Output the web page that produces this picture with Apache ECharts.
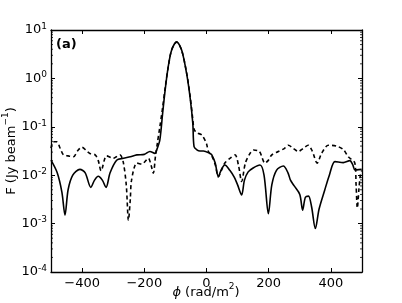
<!DOCTYPE html>
<html><head><meta charset="utf-8">
<script src="https://cdn.jsdelivr.net/npm/echarts@6/dist/echarts.min.js"></script>
<style>html,body{margin:0;padding:0;background:#fff}#c{width:402px;height:303px}</style>
</head><body><div id="c"></div>
<script>
const solidPhi = [-500,-480,-465,-455,-445,-430,-407,-390,-372,-360,-348,-335,-323,-310,-289,-267,-245,-224,-200,-182,-166,-158,-150,-141,-133,-123,-112,-96,-80,-64,-53,-44,-40,-30,-21,-10,11,17,28,38,48,59,75,90,100,113,122,134,150,172,185,199,210,225,247,262,270,282,300,309,318,328,338,350,362,380,395,413,440,461,470,477,483,499];
const solidF = [0.0204,0.0112,0.00447,0.0015,0.0050,0.0100,0.0132,0.0112,0.0056,0.0079,0.0095,0.0079,0.0056,0.0112,0.0204,0.0224,0.0240,0.0263,0.0269,0.0309,0.0282,0.0363,0.0537,0.191,0.575,1.75,3.86,5.73,3.86,1.27,0.417,0.117,0.0389,0.0331,0.0316,0.0316,0.0282,0.0263,0.0178,0.0093,0.0132,0.0162,0.0126,0.0089,0.0063,0.0039,0.0079,0.0117,0.0141,0.0162,0.0100,0.0016,0.0063,0.0126,0.0155,0.0112,0.0079,0.0060,0.0040,0.0019,0.0035,0.0037,0.0022,0.00079,0.0020,0.0049,0.0100,0.0191,0.0182,0.0200,0.0166,0.0129,0.0129,0.0132];
const dashPhi = [-500,-493,-482,-470,-460,-445,-428,-415,-401,-385,-375,-358,-348,-339,-321,-300,-290,-278,-268,-258,-251,-245,-241,-224,-208,-187,-178,-171,-164,-158,-150,-141,-133,-123,-112,-96,-80,-64,-53,-44,-40,-32,-15,0,6,17,28,38,48,59,76,92,103,113,125,140,151,170,188,198,210,231,250,263,280,295,310,327,340,356,370,392,419,440,456,477,481,485,490,494,499];
const dashF = [0.0363,0.0490,0.0490,0.0355,0.0263,0.0251,0.0240,0.0316,0.0380,0.0316,0.0282,0.0263,0.0200,0.0123,0.0251,0.0224,0.0240,0.0263,0.0191,0.0063,0.00117,0.0032,0.0079,0.0178,0.0170,0.0224,0.0158,0.0110,0.0251,0.0457,0.100,0.251,0.631,1.74,3.89,5.62,3.80,1.32,0.447,0.141,0.089,0.0759,0.0676,0.0447,0.0309,0.0251,0.0166,0.0093,0.0126,0.0178,0.0224,0.0263,0.0158,0.0074,0.0178,0.0282,0.0331,0.0309,0.0178,0.0200,0.0263,0.0309,0.0355,0.0417,0.0355,0.0309,0.0355,0.0417,0.0316,0.0178,0.0282,0.0417,0.0398,0.0339,0.0240,0.0178,0.0063,0.0021,0.0050,0.0093,0.0126];
const xTicks = [-400,-200,0,200,400];
const yDecades = [1e-4,1e-3,1e-2,1e-1,1e0,1e1];
const xTitle = '{i|\u03d5}{n| (rad/m}{s|2}{n|)}';
const yTitle = '{n|F (Jy beam}{s|\u22121}{n|)}';
const panelLabel = '(a)';

const minorVals = [];
for (let d = 0; d < 5; d++) for (let m = 2; m <= 9; m++) minorVals.push([m * yDecades[d]]);

const font = 'DejaVu Sans';
const chart = echarts.init(document.getElementById('c'), null, {renderer:'canvas'});
const axLine = {show:true, onZero:false, lineStyle:{color:'#000', width:1.3}};
const supRich = {
  n:{fontFamily:font, fontSize:13, fill:'#000', lineHeight:17, verticalAlign:'bottom'},
  i:{fontFamily:font, fontStyle:'italic', fontSize:13, fill:'#000', lineHeight:17, verticalAlign:'bottom'},
  s:{fontFamily:font, fontSize:9, fill:'#000', lineHeight:10, verticalAlign:'top'}
};
chart.setOption({
  animation:false,
  grid:{left:51, right:40, top:30, bottom:31, show:false, containLabel:false, outerBoundsMode:'none'},
  xAxis:[
    {type:'value', min:-500, max:500, position:'bottom',
     axisLine:axLine, splitLine:{show:false},
     axisTick:{show:true, inside:true, length:4, customValues:xTicks, lineStyle:{color:'#000', width:1}},
     axisLabel:{show:true, customValues:xTicks, margin:5, color:'#000', fontFamily:font, fontSize:13,
       formatter:v => (v < 0 ? '\u2212' + Math.abs(v) : String(v))}},
    {type:'value', min:-500, max:500, position:'top',
     axisLine:axLine, splitLine:{show:false},
     axisTick:{show:true, inside:true, length:4, customValues:xTicks, lineStyle:{color:'#000', width:1}},
     axisLabel:{show:false}}
  ],
  yAxis:[
    {type:'log', logBase:10, min:1e-4, max:10, position:'left',
     axisLine:axLine, splitLine:{show:false},
     axisTick:{show:true, inside:true, length:4, lineStyle:{color:'#000', width:1}},
     minorTick:{show:false},
     axisLabel:{show:true, margin:4, color:'#000', fontFamily:font, fontSize:13,
       formatter:v => '{b|10}{s|' + Math.round(Math.log10(v)) + '}',
       rich:{b:{fontFamily:font, fontSize:13, color:'#000'},
             s:{fontFamily:font, fontSize:9, color:'#000', verticalAlign:'bottom', padding:[0,0,7,0]}}}},
    {type:'log', logBase:10, min:1e-4, max:10, position:'right',
     axisLine:axLine, splitLine:{show:false},
     axisTick:{show:true, inside:true, length:4, lineStyle:{color:'#000', width:1}},
     axisLabel:{show:false}}
  ],
  series:[
    {type:'line', name:'solid', showSymbol:false, symbol:'none', smooth:0.3,
     data:solidPhi.map((x,i)=>[x, solidF[i]]),
     lineStyle:{color:'#000', width:1.6, type:'solid'}, z:3},
    {type:'line', name:'dashed', showSymbol:false, symbol:'none', smooth:0.3,
     data:dashPhi.map((x,i)=>[x, dashF[i]]),
     lineStyle:{color:'#000', width:1.6, type:[4,3]}, z:3},
    {type:'custom', name:'minor', silent:true, z:4,
     data:minorVals,
     renderItem:(params, api) => {
       const v = api.value(0);
       const pl = api.coord([-500, v]);
       const pr = api.coord([500, v]);
       return {type:'group', children:[
         {type:'line', shape:{x1:pl[0], y1:pl[1], x2:pl[0]+2, y2:pl[1]}, style:{stroke:'#000', lineWidth:0.8}},
         {type:'line', shape:{x1:pr[0], y1:pr[1], x2:pr[0]-2, y2:pr[1]}, style:{stroke:'#000', lineWidth:0.8}}
       ]};
     },
     encode:{y:0}}
  ],
  graphic:[
    {type:'text', left:56, top:38, style:{text:panelLabel, fontFamily:font, fontWeight:'bold', fontSize:13, fill:'#000'}},
    {type:'text', x:206, y:291, style:{text:xTitle, fontFamily:font, fontSize:13, fill:'#000',
       align:'center', verticalAlign:'middle', rich:supRich}},
    {type:'text', x:10, y:151, rotation:Math.PI/2, style:{text:yTitle, fontFamily:font, fontSize:13, fill:'#000',
       align:'center', verticalAlign:'middle', rich:supRich}}
  ]
});
</script></body></html>
